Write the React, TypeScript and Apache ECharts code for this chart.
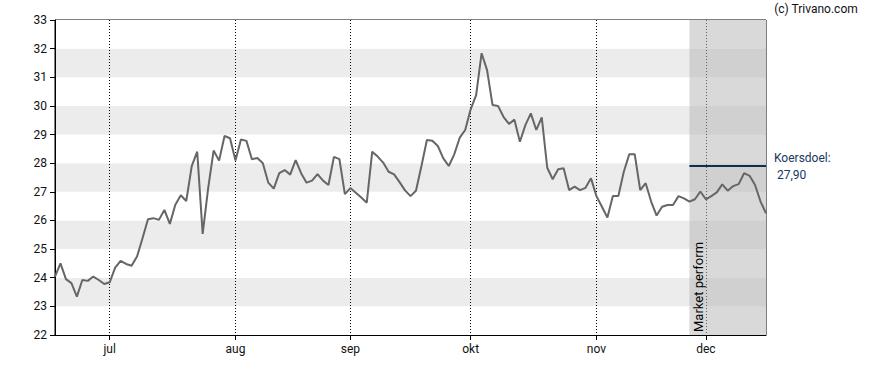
import { useEffect, useRef } from "react";
import * as echarts from "echarts";

// Closing prices per trading day
const prices: number[] = [
  24.04, 24.5, 23.95, 23.81, 23.34, 23.92, 23.89, 24.04, 23.92, 23.78,
  23.84, 24.35, 24.59, 24.48, 24.42, 24.74, 25.38, 26.04, 26.08, 26.02,
  26.37, 25.88, 26.55, 26.88, 26.68, 27.9, 28.4, 25.53, 27.12, 28.44,
  28.09, 28.95, 28.87, 28.09, 28.83, 28.78, 28.14, 28.18, 28.0, 27.32,
  27.11, 27.65, 27.76, 27.6, 28.11, 27.65, 27.32, 27.39, 27.62, 27.39,
  27.24, 28.22, 28.14, 26.92, 27.13, 26.97, 26.8, 26.62, 28.4, 28.23,
  28.02, 27.7, 27.61, 27.34, 27.05, 26.85, 27.04, 27.9, 28.81, 28.78,
  28.6, 28.17, 27.9, 28.31, 28.89, 29.16, 29.88, 30.38, 31.84, 31.25,
  30.03, 30.0, 29.62, 29.37, 29.52, 28.75, 29.33, 29.74, 29.16, 29.6,
  27.84, 27.44, 27.79, 27.82, 27.06, 27.18, 27.06, 27.14, 27.47, 26.85,
  26.48, 26.1, 26.85, 26.85, 27.7, 28.31, 28.31, 27.06, 27.3, 26.66,
  26.17, 26.48, 26.54, 26.54, 26.85, 26.77, 26.66, 26.74, 27.01, 26.74,
  26.85, 26.98, 27.26, 27.04, 27.2, 27.27, 27.65, 27.56, 27.24, 26.66,
  26.25,
];

const monthNames = ["jan", "feb", "mrt", "apr", "mei", "jun", "jul", "aug", "sep", "okt", "nov", "dec"];
const firstTradingDay = "2025-06-17";
const ratingStartDate = "2025-11-26";
const ratingLabel = "Market perform";
const targetPrice = 27.9;
const targetLabel = "Koersdoel:\n 27,90";
const yMin = 22;
const yMax = 33;
const copyright = "(c) Trivano.com";

function buildTradingDays(start: string, n: number): string[] {
  const out: string[] = [];
  const d = new Date(start + "T12:00:00Z");
  while (out.length < n) {
    const wd = d.getUTCDay();
    if (wd !== 0 && wd !== 6) out.push(d.toISOString().slice(0, 10));
    d.setUTCDate(d.getUTCDate() + 1);
  }
  return out;
}

const dates = buildTradingDays(firstTradingDay, prices.length);

function isMonthStart(idx: number): boolean {
  if (idx <= 0) return false;
  return dates[idx].slice(5, 7) !== dates[idx - 1].slice(5, 7);
}

const FONT = "Roboto, 'Liberation Sans', Arial, sans-serif";

export default function App() {
  const ref = useRef<HTMLDivElement>(null);

  useEffect(() => {
    if (!ref.current) return;
    const chart = echarts.init(ref.current, undefined, { renderer: "svg" });
    const lastDate = dates[dates.length - 1];

    chart.setOption({
      animation: false,
      backgroundColor: "#ffffff",
      textStyle: { fontFamily: FONT },
      grid: {
        left: 55,
        right: 122,
        top: 20,
        bottom: 35,
        show: true,
        borderColor: "#000",
        borderWidth: 1,
        backgroundColor: "transparent",
      },
      xAxis: {
        type: "category",
        data: dates,
        boundaryGap: false,
        axisLine: { show: true, lineStyle: { color: "#000", width: 1 } },
        axisTick: {
          show: true,
          length: 5,
          interval: (idx: number) => isMonthStart(idx),
          lineStyle: { color: "#000" },
        },
        axisLabel: {
          interval: (idx: number) => isMonthStart(idx),
          formatter: (v: string) => monthNames[parseInt(v.slice(5, 7), 10) - 1],
          color: "#111",
          fontSize: 12,
          fontFamily: FONT,
          margin: 8,
        },
        splitLine: {
          show: true,
          interval: (idx: number) => isMonthStart(idx),
          lineStyle: { color: "#000", type: [1, 2], width: 1 },
        },
      },
      yAxis: {
        type: "value",
        min: yMin,
        max: yMax,
        interval: 1,
        axisLine: { show: true, lineStyle: { color: "#000", width: 1 } },
        axisTick: { show: true, length: 5, lineStyle: { color: "#000" } },
        axisLabel: { color: "#111", fontSize: 12, fontFamily: FONT, margin: 8 },
        splitLine: { show: false },
        splitArea: {
          show: true,
          areaStyle: { color: ["#ffffff", "#ececec"] },
        },
      },
      series: [
        {
          type: "line",
          data: prices,
          showSymbol: false,
          symbol: "none",
          lineStyle: { color: "#666666", width: 2 },
          z: 5,
          markArea: {
            silent: true,
            itemStyle: { color: "rgba(183,183,183,0.53)" },
            label: { show: false },
            data: [[{ xAxis: ratingStartDate }, { xAxis: lastDate }]],
          },
          markLine: {
            silent: true,
            symbol: ["none", "none"],
            lineStyle: { color: "#0c3050", width: 2, type: "solid" },
            label: {
              show: true,
              position: "end",
              distance: 8,
              formatter: targetLabel,
              color: "#17375e",
              fontSize: 12,
              lineHeight: 17,
              fontFamily: FONT,
            },
            data: [
              [
                { coord: [ratingStartDate, targetPrice] },
                { coord: [lastDate, targetPrice] },
              ],
            ],
          },
        },
      ],
    });

    const p = chart.convertToPixel({ xAxisIndex: 0, yAxisIndex: 0 }, [ratingStartDate, yMin]) as number[];
    chart.setOption({
      graphic: [
        {
          type: "text",
          x: p[0] + 9,
          y: p[1] - 3,
          rotation: Math.PI / 2,
          z: 100,
          style: {
            text: ratingLabel,
            fill: "#000",
            font: `13px ${FONT}`,
            textAlign: "left",
            textVerticalAlign: "middle",
          },
        },
        {
          type: "text",
          right: 30,
          top: 3,
          z: 100,
          style: {
            text: copyright,
            fill: "#111",
            font: `12px ${FONT}`,
          },
        },
      ],
    });

    return () => chart.dispose();
  }, []);

  return (
    <div
      ref={ref}
      style={{ position: "fixed", left: 0, top: 0, width: 888, height: 370 }}
    />
  );
}
